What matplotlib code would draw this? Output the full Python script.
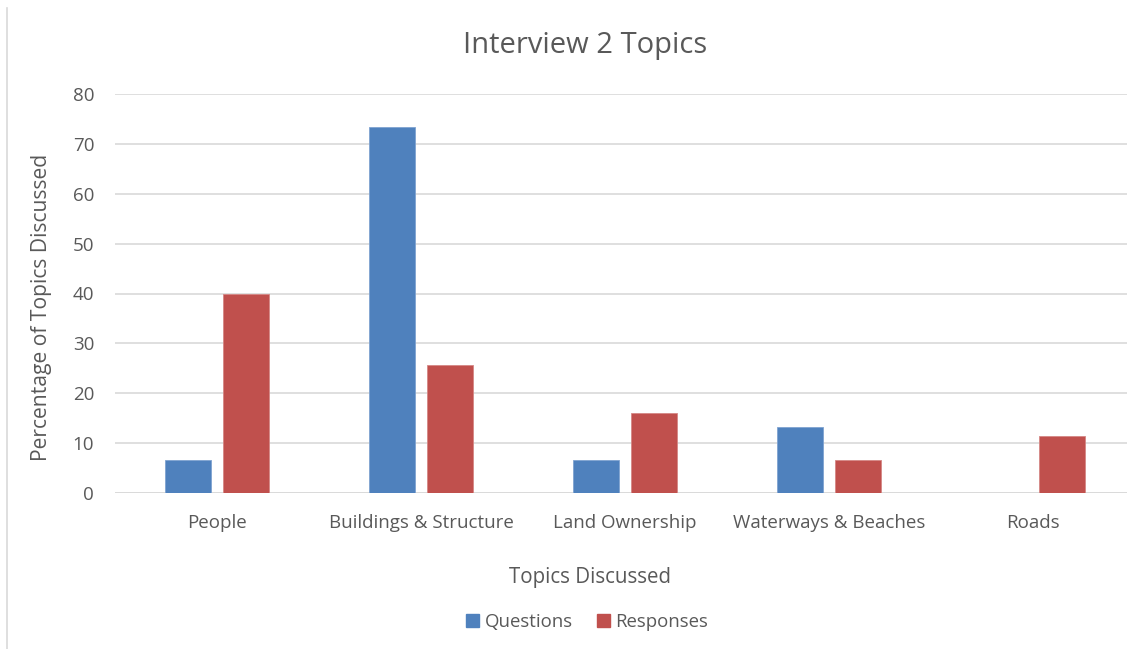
import numpy as np
import matplotlib.pyplot as plt
from matplotlib.patches import Patch

# values
topics = ["People", "Buildings & Structure", "Land Ownership", "Waterways & Beaches", "Roads"]
questions = [6.7, 73.3, 6.7, 13.3, 0]
responses = [39.8, 25.7, 16.0, 6.7, 11.4]
yticks = [0, 10, 20, 30, 40, 50, 60, 70, 80]

blue = "#4F81BD"
red = "#C0504D"
grey = "#595959"

plt.rcParams["font.family"] = ["Open Sans", "DejaVu Sans"]

W, H = 1127, 649
fig = plt.figure(figsize=(W / 100, H / 100), dpi=100)
# plot area runs off the right edge like in the screenshot
ax = fig.add_axes([115 / W, 1 - 493 / H, (1135 - 115) / W, (493 - 94) / H])

x = np.arange(len(topics))
w = 0.225
off = 0.142
ax.bar(x - off, questions, w, color=blue, edgecolor="#7FA3D1", linewidth=0.6, zorder=3)
ax.bar(x + off, responses, w, color=red, edgecolor="#D58785", linewidth=0.6, zorder=3)

ax.set_xlim(-0.5, len(topics) - 0.5)
ax.set_ylim(0, 80)
ax.set_yticks(yticks)
ax.set_xticks(x)
ax.set_xticklabels(topics)
ax.grid(axis="y", color="#D9D9D9", linewidth=1.2, zorder=0)
for s in ax.spines.values():
    s.set_visible(False)
ax.axhline(0, color="#D9D9D9", linewidth=1.2, zorder=1)
ax.tick_params(length=0, colors=grey, labelsize=13.5)
ax.tick_params(axis="x", pad=15)
ax.tick_params(axis="y", pad=15)

fig.text(585 / W, 1 - 45 / H, "Interview 2 Topics", ha="center", va="center", fontsize=21, color=grey)
fig.text(42 / W, 1 - 307 / H, "Percentage of Topics Discussed", ha="center", va="center",
         rotation=90, fontsize=15.2, color=grey)
fig.text(590 / W, 1 - 578 / H, "Topics Discussed", ha="center", va="center", fontsize=14.8, color=grey)

handles = [Patch(color=blue), Patch(color=red)]
fig.legend(handles, ["Questions", "Responses"], loc="center", bbox_to_anchor=(587 / W, 1 - 622 / H),
           ncol=2, frameon=False, fontsize=13.4, labelcolor=grey, handlelength=0.7, handleheight=0.7,
           handletextpad=0.3, columnspacing=1.3)

# thin frame line along the left edge
fig.add_artist(plt.Line2D([7 / W, 7 / W], [0, 1 - 8 / H], color="#D9D9D9", linewidth=1.2))

fig.savefig("out.png", dpi=100)
